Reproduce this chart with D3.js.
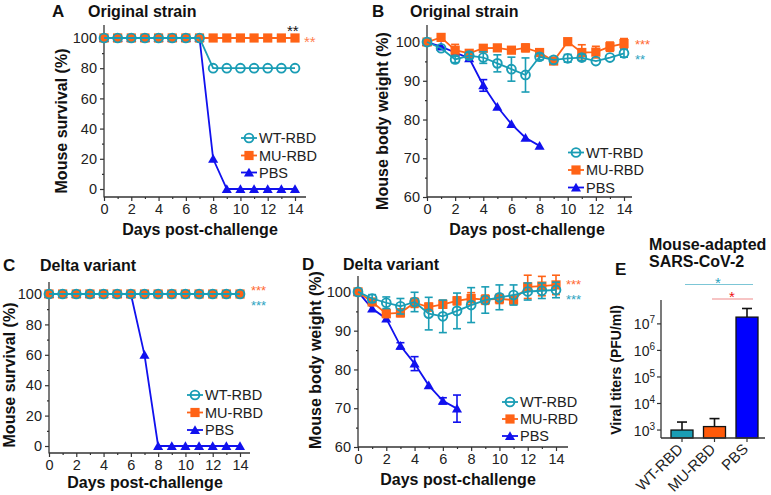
<!DOCTYPE html>
<html><head><meta charset="utf-8">
<script src="https://cdn.jsdelivr.net/npm/d3@7"></script>
<style>body{margin:0;background:#fff} text{font-family:"Liberation Sans",Arial,Helvetica,sans-serif}</style>
</head><body><svg id="c" width="771" height="495"></svg>
<script>
// ---------- DATA ----------
const days = [0,1,2,3,4,5,6,7,8,9,10,11,12,13,14];
const seriesNames = ["WT-RBD","MU-RBD","PBS"];
const xTickVals = [0,2,4,6,8,10,12,14];
const survTicks = [0,20,40,60,80,100];
const survMinor = [10,30,50,70,90];
const weightTicks = [60,70,80,90,100];
const weightMinor = [65,75,85,95];

// A: survival, original strain
const survA_WT  = [100,100,100,100,100,100,100,100,80,80,80,80,80,80,80];
const survA_MU  = [100,100,100,100,100,100,100,100,100,100,100,100,100,100,100];
const survA_PBS = [100,100,100,100,100,100,100,100,20,0,0,0,0,0,0];

// B: body weight, original strain
const wtB_WT   = [100,98.4,95.5,96.5,96.0,94.5,93.0,91.5,96.2,95.4,95.8,96.0,95.1,96.0,97.1];
const wtB_WTe  = [0.4,0.6,0.8,0.8,1.5,2.2,3.1,4.4,0.8,0.6,1.0,0.8,0.5,0.5,1.0];
const wtB_MU   = [100,101.2,97.9,97.1,98.4,98.5,97.9,98.5,97.3,95.1,100.1,97.3,97.4,98.8,99.6];
const wtB_MUe  = [0.4,0.8,1.5,0.6,0.6,0.6,0.6,1.0,0.6,0.8,0.6,2.0,1.5,1.2,1.3];
const wtB_PBS  = [100,98.8,97.3,95.8,88.8,83.3,78.8,75.3,73.2];
const wtB_PBSe = [0.3,0.5,0.5,0.5,1.5,0.6,0.5,0.5,0.5];

// C: survival, delta variant
const survC_WT  = [100,100,100,100,100,100,100,100,100,100,100,100,100,100,100];
const survC_MU  = [100,100,100,100,100,100,100,100,100,100,100,100,100,100,100];
const survC_PBS = [100,100,100,100,100,100,100,60,0,0,0,0,0,0,0];

// D: body weight, delta variant
const wtD_WT   = [100,98.3,97.2,96.3,97.4,94.4,93.7,95.1,96.6,97.9,98.6,99.2,100.1,100.3,100.5];
const wtD_WTe  = [0.4,1.0,1.5,2.0,2.5,4.2,4.2,4.6,4.5,3.4,3.2,2.6,2.2,2.0,2.0];
const wtD_MU   = [100,97.4,94.4,94.6,97.2,96.1,96.8,97.7,98.3,98.0,98.2,97.9,101.3,101.5,101.8];
const wtD_MUe  = [0.4,0.8,1.0,1.0,1.2,1.0,1.0,1.0,1.5,1.2,1.2,1.0,3.0,2.5,2.5];
const wtD_PBS  = [100,95.7,93.1,86.1,81.5,75.9,71.9,69.9];
const wtD_PBSe = [0.3,0.6,0.6,0.8,1.8,0.6,0.8,3.5];

// E: viral titers
const titerGroups = ["WT-RBD","MU-RBD","PBS"];
const titerMean  = [1.0e3, 1.35e3, 1.8e7];
const titerUpper = [2.0e3, 2.7e3, 3.8e7];
const titerExp   = [3,4,5,6,7];

// ---------- STYLE ----------
const C_WT = "#1a9db5", C_MU = "#ff6316", C_PBS = "#1111ee";
const AX = "#333";
const svg = d3.select("#c");

function marker(g, shape, color, cx, cy) {
  if (shape === "circle") {
    g.append("circle").attr("cx", cx).attr("cy", cy).attr("r", 4.4)
      .attr("fill", "none").attr("stroke", color).attr("stroke-width", 1.9);
  } else if (shape === "square") {
    g.append("rect").attr("x", cx - 4.6).attr("y", cy - 4.6).attr("width", 9.2).attr("height", 9.2)
      .attr("fill", color);
  } else {
    g.append("path").attr("d", d3.symbol(d3.symbolTriangle, 44)())
      .attr("transform", `translate(${cx},${cy + 1})`).attr("fill", color);
  }
}

function starGroup(g, stars, size) {
  stars.forEach(s => g.append("text").attr("x", s[0]).attr("y", s[1]).attr("font-size", size || 13)
    .attr("fill", s[3]).text(s[2]));
}

function linePanel(cfg) {
  const g = svg.append("g");
  const x = d3.scaleLinear().domain([0, 14]).range(cfg.xr);
  const y = d3.scaleLinear().domain(cfg.yDom).range(cfg.yr);
  const yb = cfg.yr[0], yt = cfg.yr[1], x0 = cfg.xr[0];

  const ya = g.append("g").attr("transform", `translate(${x0},0)`)
    .call(d3.axisLeft(y).tickValues(cfg.yTicks).tickSize(4).tickPadding(3));
  ya.select(".domain").remove();
  const ym = g.append("g").attr("transform", `translate(${x0},0)`)
    .call(d3.axisLeft(y).tickValues(cfg.yMinor).tickSize(2).tickFormat(""));
  ym.select(".domain").remove();
  const xa = g.append("g").attr("transform", `translate(0,${yb})`)
    .call(d3.axisBottom(x).tickValues(xTickVals).tickSize(4).tickPadding(3));
  xa.select(".domain").remove();
  const xm = g.append("g").attr("transform", `translate(0,${yb})`)
    .call(d3.axisBottom(x).tickValues(days.filter(d => d % 2 === 1)).tickSize(2).tickFormat(""));
  xm.select(".domain").remove();
  g.selectAll(".tick line").attr("stroke", AX).attr("stroke-width", 1.2);
  g.selectAll(".tick text").attr("font-size", 14.5).attr("fill", "#222")
    .style("font-family", '"Liberation Sans",Arial,sans-serif');
  g.append("line").attr("x1", x0).attr("x2", x0).attr("y1", yb + 0.6).attr("y2", yt).attr("stroke", AX).attr("stroke-width", 1.3);
  g.append("line").attr("x1", x0).attr("x2", cfg.xEnd).attr("y1", yb).attr("y2", yb).attr("stroke", AX).attr("stroke-width", 1.3);

  cfg.series.forEach(s => {
    const pts = s.vals.map((v, i) => [days[i], v, s.err ? s.err[i] : 0]);
    g.append("path").datum(pts)
      .attr("d", d3.line().x(d => x(d[0])).y(d => y(d[1])))
      .attr("fill", "none").attr("stroke", s.color).attr("stroke-width", 1.8);
    pts.forEach(d => {
      if (d[2] > 0.7) {
        const cx = x(d[0]);
        g.append("line").attr("x1", cx).attr("x2", cx).attr("y1", y(d[1] - d[2])).attr("y2", y(d[1] + d[2]))
          .attr("stroke", s.color).attr("stroke-width", 1.6);
        [d[1] - d[2], d[1] + d[2]].forEach(v => g.append("line").attr("x1", cx - 4).attr("x2", cx + 4)
          .attr("y1", y(v)).attr("y2", y(v)).attr("stroke", s.color).attr("stroke-width", 1.6));
      }
    });
    pts.forEach(d => marker(g, s.shape, s.color, x(d[0]), y(d[1])));
  });

  const lg = cfg.legend;
  [["circle", C_WT], ["square", C_MU], ["triangle", C_PBS]].forEach((m, i) => {
    const ly = lg.y[i];
    g.append("line").attr("x1", lg.x - 8).attr("x2", lg.x + 8).attr("y1", ly).attr("y2", ly)
      .attr("stroke", m[1]).attr("stroke-width", 1.8);
    marker(g, m[0], m[1], lg.x, ly);
    g.append("text").attr("x", lg.x + 10).attr("y", ly).attr("dy", "0.36em")
      .attr("font-size", 14.5).attr("fill", "#222").text(seriesNames[i]);
  });

  g.append("text").attr("x", cfg.letter[0]).attr("y", cfg.letter[1]).attr("font-size", 17)
    .attr("font-weight", "bold").attr("fill", "#111").text(cfg.letter[2]);
  g.append("text").attr("x", cfg.title[0]).attr("y", cfg.title[1]).attr("font-size", 16)
    .attr("font-weight", "bold").attr("fill", "#111").text(cfg.title[2]);
  g.append("text").attr("x", cfg.xlab[0]).attr("y", cfg.xlab[1]).attr("text-anchor", "middle")
    .attr("font-size", 16).attr("font-weight", "bold").attr("fill", "#111").text("Days post-challenge");
  g.append("text").attr("transform", `translate(${cfg.ylab[0]},${cfg.ylab[1]}) rotate(-90)`)
    .attr("text-anchor", "middle").attr("font-size", 16).attr("font-weight", "bold").attr("fill", "#111")
    .text(cfg.ylab[2]);
  starGroup(g, cfg.stars, cfg.starSize);
}

const survLab = "Mouse survival (%)", wLab = "Mouse body weight (%)";

linePanel({
  xr: [104, 295], xEnd: 306, yDom: [-5.3, 108.6], yr: [197, 25],
  yTicks: survTicks, yMinor: survMinor,
  series: [
    {vals: survA_PBS, color: C_PBS, shape: "triangle"},
    {vals: survA_MU, color: C_MU, shape: "square"},
    {vals: survA_WT, color: C_WT, shape: "circle"}],
  legend: {x: 249, y: [138, 155.5, 172.5]},
  letter: [52, 17, "A"], title: [88, 17, "Original strain"],
  xlab: [200, 235], ylab: [67, 121, survLab],
  stars: [[287, 35.5, "**", "#111"], [304, 46.5, "**", "#ff8050"]], starSize: 15
});

linePanel({
  xr: [427, 624], xEnd: 632, yDom: [60, 104.4], yr: [197, 25],
  yTicks: weightTicks, yMinor: weightMinor,
  series: [
    {vals: wtB_PBS, err: wtB_PBSe, color: C_PBS, shape: "triangle"},
    {vals: wtB_MU, err: wtB_MUe, color: C_MU, shape: "square"},
    {vals: wtB_WT, err: wtB_WTe, color: C_WT, shape: "circle"}],
  legend: {x: 576, y: [152.5, 170, 187.5]},
  letter: [372, 17, "B"], title: [410, 17, "Original strain"],
  xlab: [527, 235], ylab: [388, 121, wLab],
  stars: [[635, 48.5, "***", "#ff6a30"], [635, 63.5, "**", "#2aa3bf"]]
});

linePanel({
  xr: [49, 240], xEnd: 250, yDom: [-4.6, 107.9], yr: [453, 282],
  yTicks: survTicks, yMinor: survMinor,
  series: [
    {vals: survC_PBS, color: C_PBS, shape: "triangle"},
    {vals: survC_MU, color: C_MU, shape: "square"},
    {vals: survC_WT, color: C_WT, shape: "circle"}],
  legend: {x: 195, y: [395, 412.5, 430]},
  letter: [3, 271, "C"], title: [40, 271, "Delta variant"],
  xlab: [145, 488], ylab: [14.5, 375, survLab],
  stars: [[251, 295, "***", "#ff6a30"], [251, 310, "***", "#2aa3bf"]]
});

linePanel({
  xr: [358, 556], xEnd: 568, yDom: [60, 104.1], yr: [447, 276],
  yTicks: weightTicks, yMinor: weightMinor,
  series: [
    {vals: wtD_PBS, err: wtD_PBSe, color: C_PBS, shape: "triangle"},
    {vals: wtD_MU, err: wtD_MUe, color: C_MU, shape: "square"},
    {vals: wtD_WT, err: wtD_WTe, color: C_WT, shape: "circle"}],
  legend: {x: 510, y: [402, 419, 436]},
  letter: [302, 270, "D"], title: [343, 270, "Delta variant"],
  xlab: [458, 485], ylab: [321, 360, wLab],
  stars: [[566, 289, "***", "#ff6a30"], [566, 304, "***", "#2aa3bf"]]
});

// ---------- PANEL E ----------
(function () {
  const g = svg.append("g");
  const y = d3.scaleLog().domain([Math.pow(10, 2.7), Math.pow(10, 7.9)]).range([438, 300]);
  const x = d3.scalePoint().domain(titerGroups).range([682, 747]);
  const colors = [C_WT, "#ff5a0a", "#0000ff"];
  const x0 = 661, yb = 438;

  titerGroups.forEach((k, i) => {
    const cx = x(k), top = y(titerMean[i]), up = y(titerUpper[i]);
    g.append("line").attr("x1", cx).attr("x2", cx).attr("y1", top).attr("y2", up).attr("stroke", "#111").attr("stroke-width", 1.6);
    g.append("line").attr("x1", cx - 5).attr("x2", cx + 5).attr("y1", up).attr("y2", up).attr("stroke", "#111").attr("stroke-width", 1.6);
    g.append("rect").attr("x", cx - 11).attr("y", top).attr("width", 22).attr("height", yb - top)
      .attr("fill", colors[i]).attr("stroke", "#111").attr("stroke-width", 1.3);
  });

  g.append("line").attr("x1", x0).attr("x2", x0).attr("y1", yb).attr("y2", 300).attr("stroke", AX).attr("stroke-width", 1.3);
  g.append("line").attr("x1", x0).attr("x2", 765).attr("y1", yb).attr("y2", yb).attr("stroke", AX).attr("stroke-width", 1.3);
  titerExp.forEach(e => {
    const ty = y(Math.pow(10, e));
    g.append("line").attr("x1", x0 - 4).attr("x2", x0).attr("y1", ty).attr("y2", ty).attr("stroke", AX).attr("stroke-width", 1.2);
    const t = g.append("text").attr("x", 655).attr("y", ty).attr("dy", "0.4em").attr("text-anchor", "end")
      .attr("font-size", 14).attr("fill", "#222");
    t.append("tspan").text("10");
    t.append("tspan").attr("font-size", 10).attr("dy", "-0.6em").text(String(e));
  });
  titerGroups.forEach(k => {
    const cx = x(k);
    g.append("line").attr("x1", cx).attr("x2", cx).attr("y1", yb).attr("y2", yb + 4).attr("stroke", AX).attr("stroke-width", 1.2);
    g.append("text").attr("transform", `translate(${cx + 2},${yb + 12}) rotate(-45)`)
      .attr("text-anchor", "end").attr("font-size", 15).attr("fill", "#222").text(k);
  });

  g.append("text").attr("transform", `translate(621,370) rotate(-90)`).attr("text-anchor", "middle")
    .attr("font-size", 14).attr("font-weight", "bold").attr("fill", "#111").text("Viral titers (PFU/ml)");
  g.append("text").attr("x", 615).attr("y", 275).attr("font-size", 17).attr("font-weight", "bold").attr("fill", "#111").text("E");
  g.append("text").attr("x", 649).attr("y", 249.5).attr("font-size", 16).attr("font-weight", "bold").attr("fill", "#111").text("Mouse-adapted");
  g.append("text").attr("x", 649).attr("y", 267).attr("font-size", 16).attr("font-weight", "bold").attr("fill", "#111").text("SARS-CoV-2");

  g.append("line").attr("x1", 685).attr("x2", 753).attr("y1", 284.5).attr("y2", 284.5).attr("stroke", "#7cc6d6").attr("stroke-width", 1.2);
  g.append("line").attr("x1", 712).attr("x2", 753).attr("y1", 299).attr("y2", 299).attr("stroke", "#f08a8a").attr("stroke-width", 1.2);
  starGroup(g, [[715, 288, "*", "#2aa3bf"], [729, 302, "*", "#ee1111"]], 15);
})();
</script></body></html>
